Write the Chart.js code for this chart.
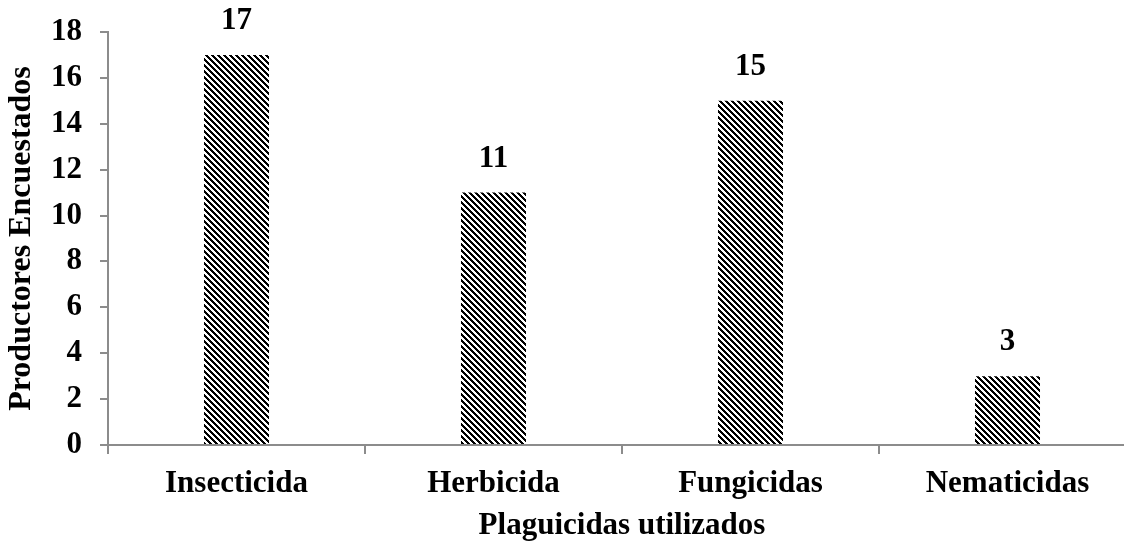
<!DOCTYPE html>
<html>
<head>
<meta charset="utf-8">
<script src="https://cdn.jsdelivr.net/npm/chart.js@4.4.0/dist/chart.umd.min.js"></script>
<style>
  html, body { margin: 0; padding: 0; background: #fff; overflow: hidden; }
  #wrap { width: 1136px; height: 542px; }
</style>
</head>
<body>
<div id="wrap"><canvas id="c" width="1136" height="542"></canvas></div>
<script>
// Pesticide types used and number of surveyed producers
const categories = ['Insecticida', 'Herbicida', 'Fungicidas', 'Nematicidas'];
const producers = [17, 11, 15, 3];
const yTicks = [0, 2, 4, 6, 8, 10, 12, 14, 16, 18];

const FONT = '"Liberation Serif", "Times New Roman", serif';
const FONT_SIZE = 31;
const AXIS_GREY = '#8c8c8c';

// Diagonal black/white hatch fill
function makeHatch(g0) {
  const size = 6;
  const pc = document.createElement('canvas');
  pc.width = size; pc.height = size;
  const g = pc.getContext('2d');
  g.fillStyle = '#ffffff';
  g.fillRect(0, 0, size, size);
  g.fillStyle = '#000000';
  for (let y = 0; y < size; y++) {
    for (let x = 0; x < size; x++) {
      if (((x - y) % size + size) % size < 3) g.fillRect(x, y, 1, 1);
    }
  }
  return g0.createPattern(pc, 'repeat');
}

const ctx = document.getElementById('c').getContext('2d');
const hatch = makeHatch(ctx);

// Value labels above bars
const valueLabels = {
  id: 'valueLabels',
  afterDatasetsDraw(chart) {
    const c = chart.ctx;
    const meta = chart.getDatasetMeta(0);
    c.save();
    c.font = 'bold ' + FONT_SIZE + 'px ' + FONT;
    c.fillStyle = '#000';
    c.textAlign = 'center';
    c.textBaseline = 'alphabetic';
    meta.data.forEach((bar, i) => {
      c.fillText(String(producers[i]), bar.x, bar.y - 26);
    });
    c.restore();
  }
};

new Chart(ctx, {
  type: 'bar',
  data: {
    labels: categories,
    datasets: [{
      data: producers,
      backgroundColor: hatch,
      borderWidth: 0,
      categoryPercentage: 1.0,
      barPercentage: 0.253
    }]
  },
  options: {
    responsive: false,
    animation: false,
    devicePixelRatio: 1,
    layout: { padding: { top: 32, left: 0, right: 0, bottom: 0 } },
    plugins: {
      legend: { display: false },
      tooltip: { enabled: false }
    },
    scales: {
      x: {
        offset: true,
        grid: {
          display: true,
          offset: true,
          drawOnChartArea: false,
          drawTicks: true,
          tickLength: 9,
          color: AXIS_GREY,
          lineWidth: 2
        },
        border: { display: true, color: AXIS_GREY, width: 2 },
        ticks: {
          color: '#000',
          font: { family: FONT, size: FONT_SIZE, weight: 'bold' },
          padding: 11
        },
        title: {
          display: true,
          text: 'Plaguicidas utilizados',
          color: '#000',
          font: { family: FONT, size: FONT_SIZE, weight: 'bold' },
          padding: { top: 0, bottom: -3 }
        },
        afterFit(scale) { scale.height = 97; scale.paddingLeft = 0; scale.paddingRight = 0; }
      },
      y: {
        min: 0,
        max: 18,
        afterBuildTicks(scale) { scale.ticks = yTicks.map(v => ({ value: v })); },
        grid: {
          display: true,
          drawOnChartArea: false,
          drawTicks: true,
          tickLength: 8,
          color: AXIS_GREY,
          lineWidth: 2
        },
        border: { display: true, color: AXIS_GREY, width: 2 },
        ticks: {
          color: '#000',
          font: { family: FONT, size: FONT_SIZE, weight: 'bold' },
          padding: 18
        },
        title: {
          display: true,
          text: 'Productores Encuestados',
          color: '#000',
          font: { family: FONT, size: 32, weight: 'bold' },
          padding: { top: 3, bottom: 0 }
        },
        afterFit(scale) { scale.width = 108; scale.paddingTop = 0; scale.paddingBottom = 0; }
      }
    }
  },
  plugins: [valueLabels]
});
</script>
</body>
</html>
